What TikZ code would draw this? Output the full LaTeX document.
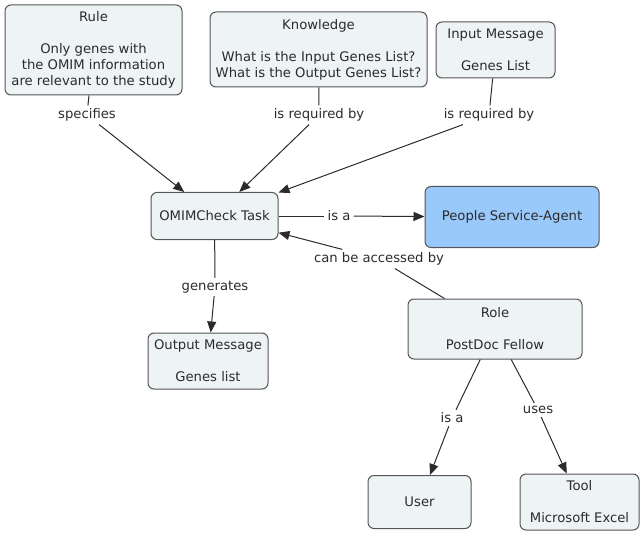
\documentclass[tikz,border=0pt]{standalone}
\usepackage{fontspec}
\setmainfont{DejaVu Sans}
\usetikzlibrary{arrows.meta}
\definecolor{boxfill}{HTML}{EEF3F5}
\definecolor{agentfill}{HTML}{99C8FA}
\definecolor{ink}{HTML}{2B2B2B}

\tikzset{
  concept/.style={draw=ink!80, fill=boxfill, rounded corners=6pt, line width=1pt,
    align=center, inner sep=0pt, text=ink},
  linkword/.style={inner sep=3pt, text=ink},
  link/.style={draw=ink, line width=1pt},
  linkto/.style={link, -{Triangle[length=11pt,width=9pt]}}
}

\begin{document}
\begin{tikzpicture}[x=1pt,y=-1pt,font=\fontsize{13.2}{16}\selectfont]
      \useasboundingbox (0,0) rectangle (644,537);
      % concepts
      \node[concept, minimum width=177, minimum height=90] (rule) at (93.5,50)
        {Rule\\ \\Only genes with\\the OMIM information\\are relevant to the study};
      \node[concept, minimum width=217, minimum height=75] (know) at (318.5,49.5)
        {Knowledge\\ \\What is the Input Genes List?\\What is the Output Genes List?};
      \node[concept, minimum width=119, minimum height=56] (input) at (495.5,50)
        {Input Message\\ \\Genes List};
      \node[concept, minimum width=127, minimum height=47] (task) at (214.5,216)
        {OMIMCheck Task};
      \node[concept, fill=agentfill, minimum width=174, minimum height=61] (agent) at (512,217)
        {People Service-Agent};
      \node[concept, minimum width=120, minimum height=56] (output) at (208,361)
        {Output Message\\ \\Genes list};
      \node[concept, minimum width=174, minimum height=60] (role) at (495,329)
        {Role\\ \\PostDoc Fellow};
      \node[concept, minimum width=103, minimum height=53] (user) at (419.5,502)
        {User};
      \node[concept, minimum width=119, minimum height=56] (tool) at (579.5,502)
        {Tool\\ \\Microsoft Excel};
      % linking words
      \node[linkword] (specifies) at (87,115) {specifies};
      \node[linkword] (reqknow) at (319,115) {is required by};
      \node[linkword] (reqinput) at (489,115) {is required by};
      \node[linkword] (isagent) at (339,216) {is a};
      \node[linkword] (accessed) at (379,259) {can be accessed by};
      \node[linkword] (generates) at (215,287) {generates};
      \node[linkword] (isuser) at (452,418) {is a};
      \node[linkword] (uses) at (538,410) {uses};
      % links
      \draw[link] (rule) -- (specifies);
      \draw[linkto] (specifies) -- (task);
      \draw[link] (know) -- (reqknow);
      \draw[linkto] (reqknow) -- (task);
      \draw[link] (input) -- (reqinput);
      \draw[linkto] (reqinput) -- (task);
      \draw[link] (task) -- (isagent);
      \draw[linkto] (isagent) -- (agent);
      \draw[link] (role) -- (accessed);
      \draw[linkto] (accessed) -- (task);
      \draw[link] (task) -- (generates);
      \draw[linkto] (generates) -- (output);
      \draw[link] (role) -- (isuser);
      \draw[linkto] (isuser) -- (user);
      \draw[link] (role) -- (uses);
      \draw[linkto] (uses) -- (tool);
\end{tikzpicture}
\end{document}
